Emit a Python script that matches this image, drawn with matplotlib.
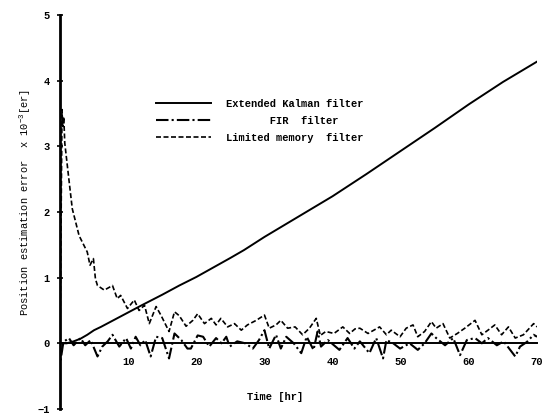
import matplotlib
matplotlib.use("Agg")
import matplotlib.pyplot as plt

plt.rcParams['font.family'] = ['Liberation Mono', 'DejaVu Sans Mono']
plt.rcParams['font.weight'] = 'bold'
plt.rcParams['mathtext.default'] = 'regular'

# Extended Kalman filter (solid)
ekf_t = [0, 1, 2, 3, 4, 5, 6, 8, 10, 12, 15, 17.5, 20, 25, 27, 30, 35, 40, 45, 50, 55, 60, 65, 70]
ekf_v = [0, 0.0, 0.03, 0.07, 0.13, 0.2, 0.25, 0.36, 0.47, 0.58, 0.74, 0.88, 1.01, 1.3, 1.42, 1.62,
         1.93, 2.24, 2.58, 2.93, 3.28, 3.64, 3.98, 4.29]

# FIR filter (dash-dot)
fir_t = [0, 0.1, 0.5, 1.3, 2, 3, 3.7, 4.5, 5.5, 6.2, 7, 7.7, 8.7, 9.7, 10.4, 11.1, 11.8, 12.5,
         13.3, 14.1, 15, 16, 16.8, 17.8, 18.7, 19.2, 20.2, 21, 21.9, 22.9, 23.7, 24.4, 24.9, 26,
         27.2, 28.3, 29.2, 30, 30.7, 31.7, 32.4, 33.2, 34.3, 35.4, 36.2, 37.2, 37.8, 38.3, 39.3,
         41, 42.2, 43.2, 44, 45.4, 46.4, 47.4, 47.9, 48.9, 49.9, 51.3, 52.5, 53.5, 54.5, 55.2,
         56.5, 57.7, 58.7, 59.7, 60.9, 61.9, 62.8, 64.1, 65.1, 66.8, 67.5, 68.5, 69.5, 70]
fir_v = [0, -0.25, 0.02, 0.08, -0.03, 0.08, -0.03, 0.05, -0.2, -0.05, 0.03, 0.13, -0.05, 0.08,
         -0.08, 0.1, -0.03, 0.05, -0.2, 0.1, 0.08, -0.23, 0.15, 0.05, -0.08, -0.08, 0.12, 0.1,
         -0.05, 0.08, 0.0, 0.1, -0.05, 0.03, 0.0, -0.08, 0.05, 0.2, -0.08, 0.13, -0.08, 0.1, 0.0,
         -0.15, 0.1, -0.1, 0.18, -0.05, 0.05, -0.1, 0.08, -0.08, 0.03, -0.15, 0.08, -0.23, 0.05,
         0.0, -0.08, 0.0, -0.1, 0.0, 0.15, 0.08, -0.03, 0.08, -0.18, 0.05, 0.08, 0.0, 0.08, -0.03,
         0.03, -0.2, -0.05, 0.02, 0.13, 0.1]

# Limited memory filter (dashed)
lmf_t = [0, 0.3, 0.4, 0.55, 0.7, 1.3, 1.8, 2.8, 4.0, 4.4, 4.9, 5.2, 5.5, 6.5, 7.7, 8.4, 8.9, 9.9,
         10.9, 11.6, 12.4, 13.1, 14.1, 14.8, 16.0, 16.8, 17.5, 18.5, 19.5, 20.2, 21.2, 22.2, 22.9,
         23.6, 24.6, 25.6, 26.6, 27.5, 28.8, 30.0, 30.7, 31.7, 32.4, 33.4, 34.5, 35.6, 36.6, 37.6,
         38.2, 39.0, 40.2, 41.5, 42.5, 43.3, 44.0, 45.2, 46.9, 47.9, 48.6, 49.9, 50.8, 51.8, 52.5,
         53.5, 54.5, 55.2, 56.2, 57.2, 58.3, 59.4, 60.9, 61.9, 62.8, 63.8, 64.8, 65.8, 66.8, 68.0,
         69.5, 70]
lmf_v = [0, 3.56, 3.3, 3.45, 3.05, 2.5, 2.05, 1.64, 1.39, 1.19, 1.29, 0.98, 0.88, 0.81, 0.88,
         0.68, 0.73, 0.53, 0.66, 0.5, 0.58, 0.3, 0.56, 0.43, 0.18, 0.48, 0.42, 0.26, 0.35, 0.45,
         0.3, 0.38, 0.28, 0.38, 0.25, 0.3, 0.2, 0.28, 0.35, 0.43, 0.23, 0.28, 0.35, 0.23, 0.25,
         0.13, 0.23, 0.38, 0.12, 0.18, 0.15, 0.25, 0.15, 0.22, 0.23, 0.15, 0.25, 0.13, 0.2, 0.1,
         0.23, 0.28, 0.1, 0.18, 0.33, 0.23, 0.3, 0.08, 0.15, 0.23, 0.35, 0.13, 0.2, 0.28, 0.13,
         0.25, 0.08, 0.13, 0.3, 0.25]

xticks = [10, 20, 30, 40, 50, 60, 70]
yticks = [-1, 0, 1, 2, 3, 4, 5]

fig = plt.figure(figsize=(5.48, 4.15), dpi=100)
ax = fig.add_axes([0.1095, 0.0145, 0.8705, 0.9494])

ax.plot(ekf_t, ekf_v, color='black', linewidth=1.4, label='Extended Kalman filter')
ax.plot(fir_t, fir_v, color='black', linewidth=1.5, linestyle=(0, (6, 1.5, 1, 1.5)),
        label='       FIR  filter')
ax.plot(lmf_t, lmf_v, color='black', linewidth=1.2, linestyle=(0, (3, 1.5)),
        label='Limited memory  filter')

ax.set_xlim(0, 70)
ax.set_ylim(-1, 5)

# Axes look: left spine + zero line only
ax.spines[['top', 'right']].set_visible(False)
ax.spines['bottom'].set_position(('data', 0))
ax.spines['bottom'].set_linewidth(1.4)
ax.spines['left'].set_linewidth(2)

ax.set_xticks(xticks)
ax.set_yticks(yticks)
ax.tick_params(axis='x', length=0, pad=10, labelsize=7.5)
ax.tick_params(axis='y', length=4, width=1.2, direction='inout', pad=5.5, labelsize=7.5)

ax.set_ylabel('Position estimation error  x 10$^{-3}$[er]', fontsize=7.5)
ax.yaxis.set_label_coords(-0.057, 0.523)
ax.text(31.6, -0.82, 'Time [hr]', ha='center', va='center', fontsize=7.5)

ax.legend(loc='upper left', bbox_to_anchor=(0.201, 0.787), frameon=False, fontsize=7.5,
          handlelength=5.3, handletextpad=1.45, labelspacing=0.68, borderpad=0,
          borderaxespad=0)

fig.savefig('out.png', dpi=100, facecolor='white')
